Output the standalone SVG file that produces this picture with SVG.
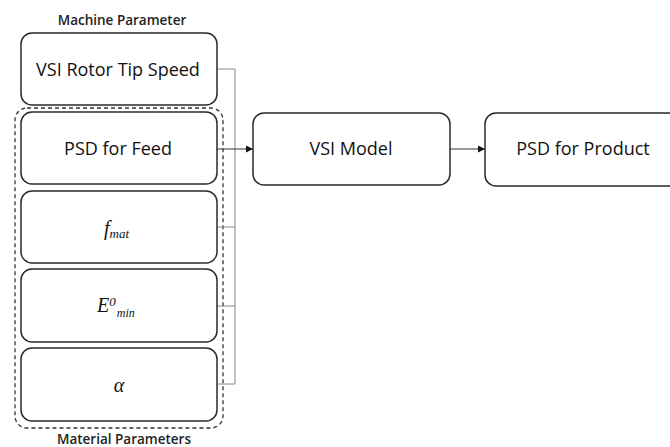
<svg xmlns="http://www.w3.org/2000/svg" width="670" height="447" viewBox="0 0 670 447">
<defs>
<marker id="arr" markerWidth="8" markerHeight="8" refX="7" refY="4" orient="auto" markerUnits="userSpaceOnUse">
<path d="M0,0.5 L7,4 L0,7.5 Z" fill="#111"/>
</marker>
<style>
.box{fill:#fff;stroke:#2a2a2a;stroke-width:1.5}
.lbl{font-family:"Open Sans","DejaVu Sans",sans-serif;font-size:18px;fill:#111;text-anchor:middle}
.cap{font-family:"Open Sans","DejaVu Sans",sans-serif;font-size:13.5px;font-weight:600;fill:#222;text-anchor:middle}
.math{font-family:"Liberation Serif","DejaVu Serif",serif;font-style:italic;fill:#111}
.con{fill:none;stroke:#8a8a8a;stroke-width:1}
.arrow{fill:none;stroke:#333;stroke-width:1}
</style>
</defs>
<rect width="670" height="447" fill="#fff"/>
<text class="cap" x="122" y="25">Machine Parameter</text>
<text class="cap" x="124" y="444">Material Parameters</text>
<rect id="material-group" x="15" y="108" width="208" height="320" rx="12" fill="none" stroke="#333" stroke-width="1.3" stroke-dasharray="4 3"/>
<g id="connectors">
<polyline class="con" points="217,69 235,69 235,384 217,384"/>
<line class="con" x1="217" y1="227" x2="235" y2="227"/>
<line class="con" x1="217" y1="306" x2="235" y2="306"/>
<line class="arrow" x1="217" y1="149" x2="253" y2="149" marker-end="url(#arr)"/>
<line class="arrow" x1="450" y1="149" x2="485" y2="149" marker-end="url(#arr)"/>
</g>
<g id="rotor">
<rect class="box" x="21" y="33" width="196" height="72" rx="11"/>
<text class="lbl" x="118" y="76">VSI Rotor Tip Speed</text>
</g>
<g id="psd-feed">
<rect class="box" x="21" y="112" width="196" height="72" rx="11"/>
<text class="lbl" x="118" y="155">PSD for Feed</text>
</g>
<g id="fmat">
<rect class="box" x="21" y="191" width="196" height="72" rx="11"/>
<text class="math" x="104" y="235" font-size="20">f<tspan font-size="13" dy="3">mat</tspan></text>
</g>
<g id="emin">
<rect class="box" x="21" y="269" width="196" height="73" rx="11"/>
<text class="math" x="97" y="312" font-size="20">E<tspan font-size="13" dy="-6">0</tspan><tspan font-size="12" dy="11" dx="1">min</tspan></text>
</g>
<g id="alpha">
<rect class="box" x="21" y="348" width="196" height="73" rx="11"/>
<text class="math" x="119" y="392" font-size="20" text-anchor="middle">α</text>
</g>
<g id="vsi-model">
<rect class="box" x="253" y="113" width="197" height="72" rx="11"/>
<text class="lbl" x="351" y="155">VSI Model</text>
</g>
<g id="psd-product">
<rect class="box" x="485" y="113" width="200" height="73" rx="11"/>
<text class="lbl" x="583" y="155">PSD for Product</text>
</g>
</svg>
